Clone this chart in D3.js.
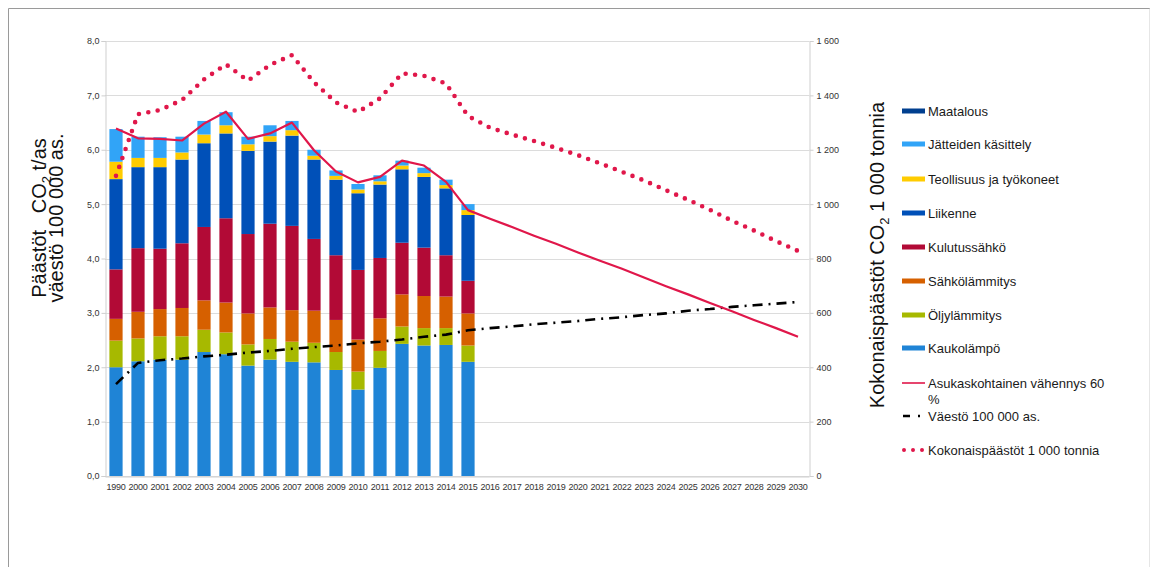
<!DOCTYPE html>
<html>
<head>
<meta charset="utf-8">
<script src="https://cdn.jsdelivr.net/npm/d3@7"></script>
<style>
  body { margin: 0; background: #fff; }
  text { font-family: "Liberation Sans", Arial, sans-serif; }
</style>
</head>
<body>
<div id="chart"></div>
<script>
// Years on the x axis
const years = ["1990", "2000", "2001", "2002", "2003", "2004", "2005", "2006", "2007", "2008",
  "2009", "2010", "2011", "2012", "2013", "2014", "2015", "2016", "2017", "2018", "2019",
  "2020", "2021", "2022", "2023", "2024", "2025", "2026", "2027", "2028", "2029", "2030"];

// Stacked sectors, t CO2 per inhabitant (1990..2015)
const kaukolampo = [2.00, 2.11, 2.14, 2.14, 2.28, 2.24, 2.03, 2.14, 2.10, 2.09, 1.95, 1.59, 1.99, 2.43, 2.40, 2.41, 2.10];
const oljylammitys = [0.49, 0.42, 0.43, 0.43, 0.41, 0.40, 0.39, 0.38, 0.37, 0.36, 0.33, 0.33, 0.31, 0.32, 0.32, 0.31, 0.30];
const sahkolammitys = [0.40, 0.49, 0.50, 0.52, 0.54, 0.55, 0.57, 0.58, 0.58, 0.59, 0.59, 0.59, 0.60, 0.59, 0.59, 0.58, 0.59];
const kulutussahko = [0.91, 1.17, 1.11, 1.19, 1.35, 1.55, 1.46, 1.54, 1.55, 1.32, 1.19, 1.28, 1.11, 0.95, 0.89, 0.76, 0.60];
const liikenne = [1.66, 1.49, 1.50, 1.54, 1.54, 1.56, 1.53, 1.51, 1.66, 1.46, 1.39, 1.41, 1.35, 1.35, 1.30, 1.23, 1.21];
const teollisuus = [0.32, 0.17, 0.17, 0.13, 0.16, 0.15, 0.12, 0.10, 0.10, 0.07, 0.07, 0.07, 0.06, 0.07, 0.07, 0.06, 0.09];
const jatteet = [0.60, 0.39, 0.38, 0.29, 0.25, 0.24, 0.14, 0.20, 0.17, 0.11, 0.10, 0.10, 0.11, 0.09, 0.10, 0.10, 0.11];
const maatalous = [0, 0, 0, 0, 0, 0, 0, 0, 0, 0, 0, 0, 0, 0, 0, 0, 0];

// Lines
const asukaskohtainen = [6.39, 6.21, 6.20, 6.17, 6.48, 6.70, 6.20, 6.30, 6.50, 5.99, 5.60, 5.40, 5.50, 5.80, 5.71, 5.41,
  4.89, 4.73, 4.58, 4.42, 4.27, 4.11, 3.96, 3.81, 3.65, 3.49, 3.34, 3.18, 3.03, 2.87, 2.72, 2.56];
const vaesto = [1.69, 2.08, 2.13, 2.16, 2.20, 2.23, 2.27, 2.30, 2.34, 2.37, 2.40, 2.44, 2.47, 2.51, 2.56, 2.60,
  2.68, 2.72, 2.75, 2.79, 2.82, 2.85, 2.89, 2.92, 2.96, 2.99, 3.04, 3.07, 3.11, 3.14, 3.17, 3.20];
const kokonais = [1104, 1331, 1346, 1383, 1459, 1514, 1454, 1512, 1548, 1448, 1374, 1339, 1389, 1481, 1472, 1444,
  1324, 1281, 1256, 1232, 1207, 1180, 1150, 1119, 1087, 1051, 1016, 979, 939, 903, 864, 828];

const leftTicks = [0, 1, 2, 3, 4, 5, 6, 7, 8];
const rightTicks = [0, 200, 400, 600, 800, 1000, 1200, 1400, 1600];

const sectors = [
  { name: "Kaukolämpö", values: kaukolampo, color: "#1f84d6" },
  { name: "Öljylämmitys", values: oljylammitys, color: "#a7b900" },
  { name: "Sähkölämmitys", values: sahkolammitys, color: "#d66000" },
  { name: "Kulutussähkö", values: kulutussahko, color: "#b20a36" },
  { name: "Liikenne", values: liikenne, color: "#0050b8" },
  { name: "Teollisuus ja työkoneet", values: teollisuus, color: "#ffcc00" },
  { name: "Jätteiden käsittely", values: jatteet, color: "#31a4f7" },
  { name: "Maatalous", values: maatalous, color: "#003f8f" }
];

const W = 1151, H = 567;
const plot = { left: 105, right: 809, top: 41, bottom: 476 };
const red = "#e0174a";

const svg = d3.select("#chart").append("svg")
  .attr("width", W).attr("height", H);

// outer frame
svg.append("path")
  .attr("d", `M8.5,${H} V8.5 H1149.5 V${H}`)
  .attr("fill", "none").attr("stroke", "#9a9a9a").attr("stroke-width", 1);
svg.append("line").attr("x1", 1149.5).attr("x2", 1149.5).attr("y1", 9).attr("y2", H)
  .attr("stroke", "#e6e6e6");

const x = d3.scaleBand().domain(years).range([plot.left, plot.right])
  .paddingInner(0.4).paddingOuter(0.2);
const yL = d3.scaleLinear().domain([0, 8]).range([plot.bottom, plot.top]);
const yR = d3.scaleLinear().domain([0, 1600]).range([plot.bottom, plot.top]);

// gridlines
svg.append("g").selectAll("line").data(leftTicks).join("line")
  .attr("x1", plot.left).attr("x2", plot.right)
  .attr("y1", d => Math.round(yL(d)) + 0.5).attr("y2", d => Math.round(yL(d)) + 0.5)
  .attr("stroke", "#dcdcdc").attr("stroke-width", 1.2);

// left axis
const axL = svg.append("g").attr("transform", `translate(${plot.left + 0.5},0)`)
  .call(d3.axisLeft(yL).tickValues(leftTicks).tickSize(4).tickPadding(2)
    .tickFormat(d => d3.format(".1f")(d).replace(".", ",")));
axL.select(".domain").attr("stroke", "#cfcfcf");
axL.selectAll(".tick line").attr("stroke", "#cfcfcf");
axL.selectAll("text").attr("font-size", 9).attr("fill", "#333")
  .style("font-family", "Liberation Sans, Arial, sans-serif");

// right axis
const axR = svg.append("g").attr("transform", `translate(${plot.right + 0.5},0)`)
  .call(d3.axisRight(yR).tickValues(rightTicks).tickSize(4).tickPadding(3)
    .tickFormat(d => d3.format(",")(d).replace(",", " ")));
axR.select(".domain").attr("stroke", "#cfcfcf");
axR.selectAll(".tick line").attr("stroke", "#cfcfcf");
axR.selectAll("text").attr("font-size", 9).attr("fill", "#333")
  .style("font-family", "Liberation Sans, Arial, sans-serif");

// bottom axis
const axB = svg.append("g").attr("transform", `translate(0,${plot.bottom + 0.5})`)
  .call(d3.axisBottom(x).tickSize(0).tickPadding(7));
axB.select(".domain").attr("stroke", "#cfcfcf");
axB.selectAll("text").attr("font-size", 9).attr("fill", "#333")
  .attr("letter-spacing", -0.2)
  .style("font-family", "Liberation Sans, Arial, sans-serif");

// stacked bars
const barYears = years.slice(0, kaukolampo.length);
const table = barYears.map((yr, i) => {
  const row = { year: yr };
  sectors.forEach(s => { row[s.name] = s.values[i]; });
  return row;
});
const stack = d3.stack().keys(sectors.map(s => s.name));
const layers = stack(table);

svg.append("g").selectAll("g").data(layers).join("g")
  .attr("fill", (d, i) => sectors[i].color)
  .selectAll("rect").data(d => d).join("rect")
  .attr("x", d => x(d.data.year))
  .attr("width", x.bandwidth())
  .attr("y", d => yL(d[1]))
  .attr("height", d => Math.max(0, yL(d[0]) - yL(d[1])));

// lines
const cx = d => x(d) + x.bandwidth() / 2;

const lineL = d3.line().x((d, i) => cx(years[i])).y(d => yL(d));
const lineR = d3.line().x((d, i) => cx(years[i])).y(d => yR(d));

svg.append("path").datum(vaesto)
  .attr("d", lineL).attr("fill", "none")
  .attr("stroke", "#000").attr("stroke-width", 2.6)
  .attr("stroke-dasharray", "10,6,2,6");

svg.append("path").datum(asukaskohtainen)
  .attr("d", lineL).attr("fill", "none")
  .attr("stroke", red).attr("stroke-width", 2.2)
  .attr("stroke-linejoin", "round");

svg.append("path").datum(kokonais)
  .attr("d", lineR).attr("fill", "none")
  .attr("stroke", red).attr("stroke-width", 4.6)
  .attr("stroke-linecap", "round")
  .attr("stroke-dasharray", "0,9.5");

// axis titles
const leftTitle = svg.append("text")
  .attr("transform", "translate(0,218) rotate(-90)")
  .attr("text-anchor", "middle").attr("font-size", 20).attr("fill", "#111");
const lt1 = leftTitle.append("tspan").attr("x", 0).attr("y", 46);
lt1.append("tspan").text("Päästöt\u00a0\u00a0\u00a0CO");
lt1.append("tspan").attr("font-size", 13).attr("dy", 5).text("2");
lt1.append("tspan").attr("dy", -5).text(" t/as");
leftTitle.append("tspan").attr("x", 0).attr("y", 63).text("väestö 100 000 as.");

const rightTitle = svg.append("text")
  .attr("transform", "translate(884,255) rotate(-90)")
  .attr("text-anchor", "middle").attr("font-size", 20).attr("fill", "#111");
rightTitle.append("tspan").text("Kokonaispäästöt CO");
rightTitle.append("tspan").attr("font-size", 13).attr("dy", 5).text("2");
rightTitle.append("tspan").attr("dy", -5).text(" 1 000 tonnia");

// legend
const legendItems = [
  { name: "Maatalous", type: "rect", color: "#003f8f" },
  { name: "Jätteiden käsittely", type: "rect", color: "#31a4f7" },
  { name: "Teollisuus ja työkoneet", type: "rect", color: "#ffcc00" },
  { name: "Liikenne", type: "rect", color: "#0050b8" },
  { name: "Kulutussähkö", type: "rect", color: "#b20a36" },
  { name: "Sähkölämmitys", type: "rect", color: "#d66000" },
  { name: "Öljylämmitys", type: "rect", color: "#a7b900" },
  { name: "Kaukolämpö", type: "rect", color: "#1f84d6" },
  { name: "Asukaskohtainen vähennys 60", extra: "%", type: "line" },
  { name: "Väestö 100 000 as.", type: "dashdot" },
  { name: "Kokonaispäästöt 1 000 tonnia", type: "dots" }
];
const legendY = [111, 144, 179, 213, 247, 281, 315, 348, 383, 416, 450];

const leg = svg.append("g").selectAll("g").data(legendItems).join("g")
  .attr("transform", (d, i) => `translate(902,${legendY[i]})`);

leg.filter(d => d.type === "rect").append("rect")
  .attr("x", 0).attr("y", -2.5).attr("width", 23).attr("height", 5)
  .attr("fill", d => d.color);
leg.filter(d => d.type === "line").append("line")
  .attr("x1", 0).attr("x2", 23).attr("y1", 0).attr("y2", 0)
  .attr("stroke", red).attr("stroke-width", 1.6);
leg.filter(d => d.type === "dashdot").append("line")
  .attr("x1", 1).attr("x2", 23).attr("y1", 0).attr("y2", 0)
  .attr("stroke", "#000").attr("stroke-width", 2.4)
  .attr("stroke-dasharray", "7,8,2,20");
leg.filter(d => d.type === "dots").append("line")
  .attr("x1", 2).attr("x2", 24).attr("y1", 0).attr("y2", 0)
  .attr("stroke", red).attr("stroke-width", 4).attr("stroke-linecap", "round")
  .attr("stroke-dasharray", "0,9");

leg.append("text")
  .attr("x", 26).attr("y", 0).attr("dy", "0.35em")
  .attr("font-size", 13).attr("fill", "#1a1a1a")
  .text(d => d.name);
leg.filter(d => d.extra).append("text")
  .attr("x", 26).attr("y", 16).attr("dy", "0.35em")
  .attr("font-size", 13).attr("fill", "#1a1a1a")
  .text(d => d.extra);
</script>
</body>
</html>
